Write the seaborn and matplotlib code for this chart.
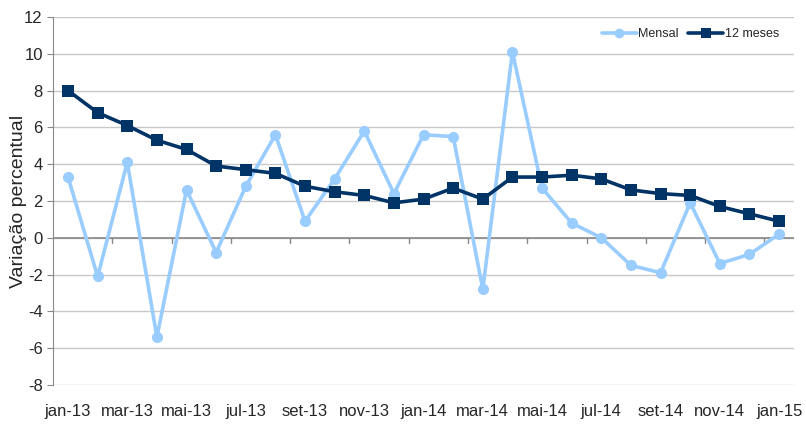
import pandas as pd
import numpy as np
import matplotlib
matplotlib.use("Agg")
import matplotlib.pyplot as plt
import seaborn as sns

months = ["jan-13", "fev-13", "mar-13", "abr-13", "mai-13", "jun-13", "jul-13", "ago-13",
          "set-13", "out-13", "nov-13", "dez-13", "jan-14", "fev-14", "mar-14", "abr-14",
          "mai-14", "jun-14", "jul-14", "ago-14", "set-14", "out-14", "nov-14", "dez-14", "jan-15"]
mensal = [3.3, -2.1, 4.1, -5.4, 2.6, -0.8, 2.8, 5.6, 0.9, 3.2, 5.8, 2.4, 5.6, 5.5, -2.8,
          10.1, 2.7, 0.8, 0.0, -1.5, -1.9, 1.9, -1.4, -0.9, 0.2]
doze_meses = [8.0, 6.8, 6.1, 5.3, 4.8, 3.9, 3.7, 3.5, 2.8, 2.5, 2.3, 1.9, 2.1, 2.7, 2.1,
              3.3, 3.3, 3.4, 3.2, 2.6, 2.4, 2.3, 1.7, 1.3, 0.9]

df = pd.DataFrame({"idx": range(len(months)), "mes": months,
                   "Mensal": mensal, "12 meses": doze_meses})
df_long = df.melt(id_vars=["idx", "mes"], var_name="serie", value_name="valor")

sns.set_style("white")
plt.rcParams["font.family"] = ["Liberation Sans", "DejaVu Sans"]
plt.rcParams["axes.unicode_minus"] = False

fig = plt.figure(figsize=(8.06, 4.24), dpi=100)
ax = fig.add_axes([0.066, 0.092, 0.919, 0.868])

# gridlines
for v in range(-8, 13, 2):
    ax.axhline(v, color="#c8c8c8", lw=1, zorder=0)

sns.lineplot(data=df_long, x="idx", y="valor", hue="serie", style="serie",
             hue_order=["Mensal", "12 meses"],
             palette={"Mensal": "#99ccff", "12 meses": "#003366"},
             markers={"Mensal": "o", "12 meses": "s"}, dashes=False,
             markersize=8, markeredgewidth=0, linewidth=2.6, ax=ax, zorder=3)

ax.axhline(0, color="#888888", lw=1.2, zorder=1)
# category tick marks on the zero line
for xb in np.arange(1.5, 24.5, 2):
    ax.plot([xb, xb], [0, -0.3], color="#888888", lw=1, zorder=1)

ax.set_xlim(-0.5, 24.5)
ax.set_ylim(-8, 12)
ax.set_yticks(range(-8, 13, 2))
ax.set_xticks(range(0, 25, 2))
ax.set_xticklabels(months[::2], fontsize=12)
ax.tick_params(axis="y", labelsize=12, length=4, color="#888888", left=True)
ax.tick_params(axis="x", length=0, pad=14)
ax.set_xlabel("")
ax.set_ylabel("Variação percentual", fontsize=14)
ax.yaxis.set_label_coords(-0.035, 0.5)

for s in ["top", "right", "bottom"]:
    ax.spines[s].set_visible(False)
ax.spines["left"].set_color("#888888")

leg = ax.legend(loc="upper right", frameon=False, fontsize=9, ncol=2,
                handlelength=2.8, columnspacing=0.8, handletextpad=0.1,
                bbox_to_anchor=(0.995, 1.0))
for h in leg.legend_handles:
    h.set_markersize(7)

fig.savefig("out.png", dpi=100)
